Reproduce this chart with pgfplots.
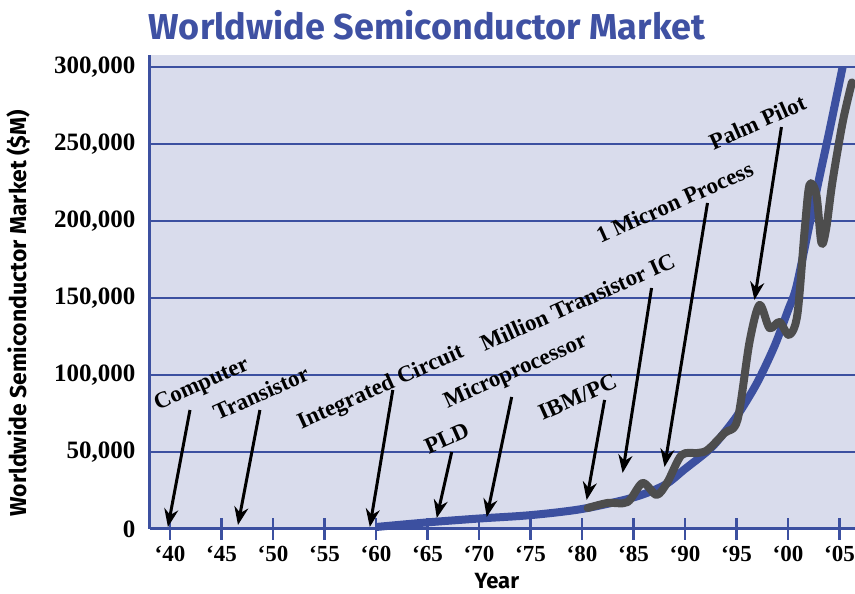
\documentclass[border=0pt]{standalone}
\usepackage{pgfplots}
\pgfplotsset{compat=1.18}
\usetikzlibrary{arrows.meta}
\usepackage{fontspec}
\setmainfont{Liberation Serif}
\newfontfamily\sansb{Fira Sans}
\definecolor{bgc}{RGB}{217,220,236}
\definecolor{blu}{RGB}{60,80,160}
\definecolor{gry}{RGB}{77,77,77}
\definecolor{ttl}{RGB}{63,81,163}
\begin{document}
\begin{tikzpicture}
\useasboundingbox (-150pt,-65pt) rectangle (705pt,529pt);
\begin{axis}[
  scale only axis, width=705pt, height=474pt,
  xmin=1938.06, xmax=2006.5, ymin=0, ymax=307800,
  axis background/.style={fill=bgc},
  axis x line*=bottom, axis y line*=left,
  axis line style={draw=blu, line width=3pt},
  scaled y ticks=false, scaled x ticks=false,
  xtick={1940,1945,1950,1955,1960,1965,1970,1975,1980,1985,1990,1995,2000,2005},
  xticklabels={‘40,‘45,‘50,‘55,‘60,‘65,‘70,‘75,‘80,‘85,‘90,‘95,‘00,‘05},
  ytick={0,50000,100000,150000,200000,250000,300000},
  yticklabels={0,{50,000},{100,000},{150,000},{200,000},{250,000},{300,000}},
  ymajorgrids, major grid style={draw=blu, line width=1.2pt},
  ytick style={draw=none},
  xtick style={draw=blu, line width=2.5pt},
  tick align=center, major tick length=22pt,
  xticklabel style={font=\bfseries\fontsize{23}{23}\selectfont, yshift=-3pt},
  yticklabel style={font=\bfseries\fontsize{25}{25}\selectfont},
  clip=false,
  title={Worldwide Semiconductor Market},
  title style={at={(axis description cs:0.393,1.050)}, anchor=center, font=\sansb\bfseries\fontsize{36}{36}\selectfont, text=ttl},
  xlabel={Year},
  xlabel style={at={(axis description cs:0.492,-0.110)}, anchor=center, font=\sansb\bfseries\fontsize{22}{22}\selectfont},
  ylabel={Worldwide Semiconductor Market (\$M)},
  ylabel style={at={(axis description cs:-0.187,0.455)}, anchor=center, font=\sansb\bfseries\fontsize{23}{23}\selectfont},
]
% blue trend curve
\addplot[draw=blu, line width=8pt, smooth, line cap=butt] coordinates {
 (1960,1300) (1965,4300) (1970,6800) (1975,9000) (1980,13000) (1985,20500)
 (1988,28500) (1990,39000) (1992,49500) (1993,56000) (1995,73000) (1997,95000)
 (1998.7,119000) (2000,142000) (2000.8,157000) (2002,195000) (2003,227000)
 (2004,258000) (2005.3,300000)
};
% gray actual curve
\addplot[draw=gry, line width=8pt, smooth, line cap=round, line join=round] coordinates {
 (1980.54,13600) (1982.48,16900) (1984.42,17500) (1985.88,29900) (1987.24,22100)
 (1988.3,30500) (1989.66,48000) (1991.21,49350) (1992.18,51300) (1993.83,62300)
 (1995.09,70800) (1996.26,121400) (1997.23,145500) (1998.2,130500) (1999.17,134400)
 (2000.1,126000) (2000.9,139000) (2001.6,193000) (2002.08,223400) (2002.75,217000)
 (2003.24,185700) (2003.7,195000) (2004.3,225000) (2005.3,264000) (2006.2,290000)
};
% arrows
\begin{scope}[-{Stealth[length=18pt,width=14pt]}, line width=3pt, black]
\draw (axis cs:1941.94,77270) -- (axis cs:1939.8,1300);
\draw (axis cs:1948.73,77270) -- (axis cs:1946.6,2600);
\draw (axis cs:1961.63,90260) -- (axis cs:1959.4,1300);
\draw (axis cs:1967.35,50000) -- (axis cs:1965.9,7140);
\draw (axis cs:1973.17,85700) -- (axis cs:1970.75,7800);
\draw (axis cs:1982.19,83800) -- (axis cs:1980.45,18800);
\draw (axis cs:1986.75,156500) -- (axis cs:1983.94,36400);
\draw (axis cs:1992.18,211700) -- (axis cs:1988.01,40260);
\draw (axis cs:1999.36,261000) -- (axis cs:1996.74,148700);
\end{scope}
% labels
\begin{scope}[every node/.style={font=\bfseries\fontsize{23}{23}\selectfont, rotate=24, anchor=center, inner sep=0pt}]
\node at (axis cs:1943.10,93500) {Computer};
\node at (axis cs:1948.83,88300) {Transistor};
\node at (axis cs:1960.47,91560) {Integrated Circuit};
\node at (axis cs:1966.87,59100) {PLD};
\node at (axis cs:1973.56,101950) {Microprocessor};
\node at (axis cs:1979.57,85700) {IBM/PC};
\node at (axis cs:1979.57,147400) {Million Transistor IC};
\node at (axis cs:1988.98,212300) {1 Micron Process};
\node at (axis cs:1997.03,264300) {Palm Pilot};
\end{scope}
\end{axis}
\end{tikzpicture}
\end{document}
